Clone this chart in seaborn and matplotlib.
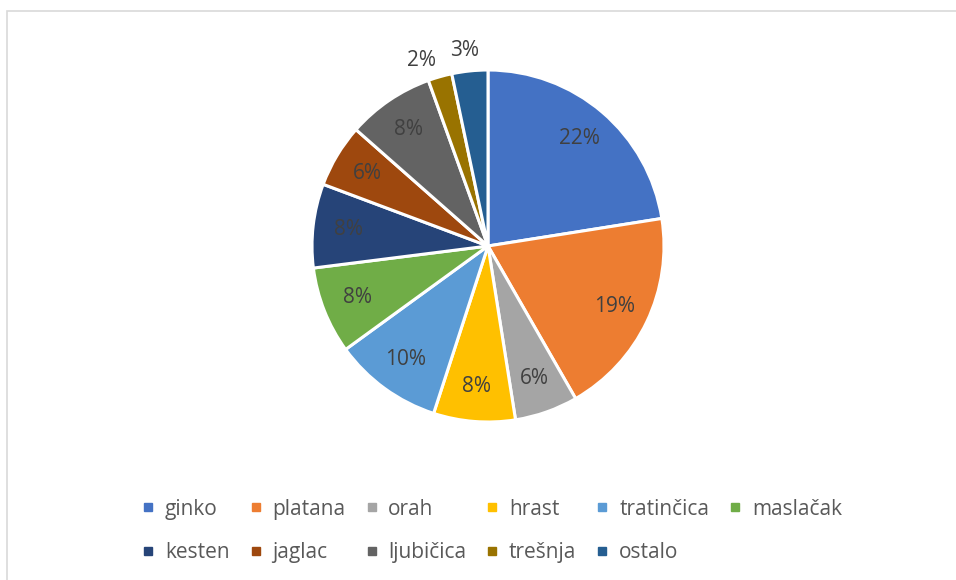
import numpy as np
import matplotlib.pyplot as plt
import seaborn as sns
from matplotlib.lines import Line2D
from matplotlib.patches import Rectangle

# data
vrste = ['ginko', 'platana', 'orah', 'hrast', 'tratinčica', 'maslačak',
         'kesten', 'jaglac', 'ljubičica', 'trešnja', 'ostalo']
udio = [22.5, 19.2, 5.8, 7.5, 10.0, 8.0, 7.7, 5.8, 8.0, 2.2, 3.3]
boje = ['#4472C4', '#ED7D31', '#A5A5A5', '#FFC000', '#5B9BD5', '#70AD47',
        '#264478', '#9E480E', '#636363', '#997300', '#255E91']

sns.set_theme(style='white')
plt.rcParams['font.family'] = ['Open Sans', 'DejaVu Sans']
txt = '#595959'

W, H = 956, 580
fig = plt.figure(figsize=(W / 100, H / 100), dpi=100)
fig.patch.set_facecolor('white')

# chart border (cut off at right/bottom like the reference)
fig.patches.append(Rectangle((7 / W, -0.05), 1.0, (H - 11) / H + 0.05,
                             transform=fig.transFigure, fill=False,
                             edgecolor='#D9D9D9', linewidth=1.2))

cx, cy, R = 488, 246, 176
ax = fig.add_axes([(cx - R) / W, (H - cy - R) / H, 2 * R / W, 2 * R / H])
wedges, _ = ax.pie(udio, colors=boje, startangle=90, counterclock=False,
                   radius=1, wedgeprops=dict(edgecolor='white', linewidth=2.2))
ax.set_xlim(-1, 1)
ax.set_ylim(-1, 1)
ax.set_aspect('equal')
ax.axis('off')

# data labels
for i, w in enumerate(wedges):
    ang = (w.theta1 + w.theta2) / 2
    r = 0.8
    if udio[i] < 5:
        r = 1.12
        if vrste[i] == 'trešnja':
            ang += 4
        else:
            ang += 1
    x = r * np.cos(np.radians(ang))
    y = r * np.sin(np.radians(ang))
    ax.text(x, y, f'{round(udio[i]):.0f}%', ha='center', va='center',
            fontsize=15, color='#404040')

# legend filled row by row (matplotlib fills columns first)
ncol = 6
red = [i for j in range(ncol) for i in (j, j + ncol) if i < len(vrste)]
handles = [Line2D([], [], marker='s', linestyle='none', markersize=6,
                  markerfacecolor=boje[i], markeredgecolor=boje[i]) for i in red]
fig.legend(handles, [vrste[i] for i in red], loc='center',
           bbox_to_anchor=(492 / W, 1 - 531 / H),
           ncol=ncol, frameon=False, fontsize=15, labelcolor=txt,
           handlelength=0.6, handletextpad=0.5, columnspacing=0.95,
           labelspacing=1.1)

fig.savefig('out.png', dpi=100, facecolor='white')
